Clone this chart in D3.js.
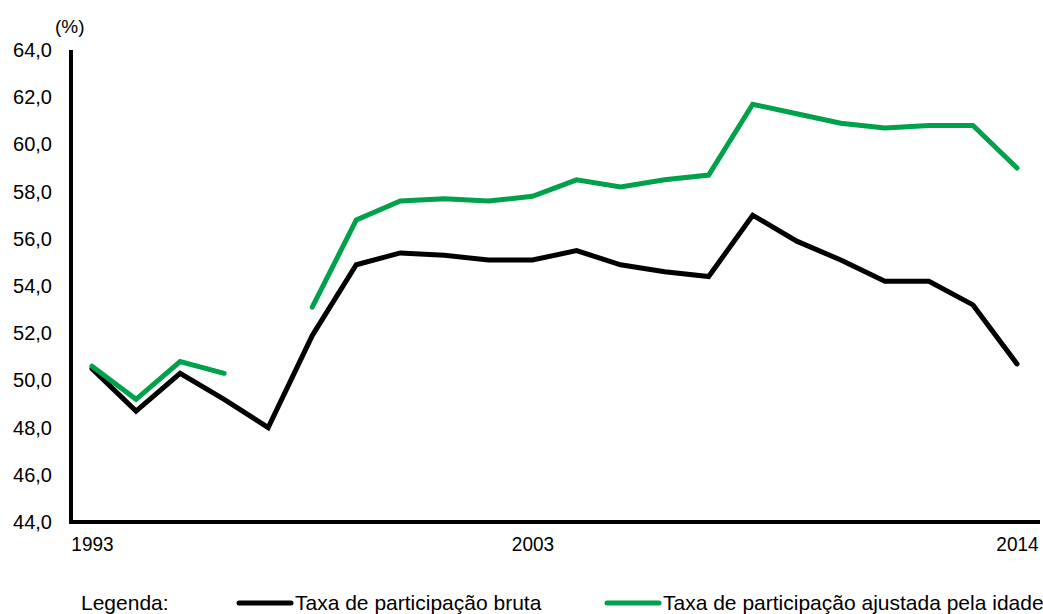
<!DOCTYPE html>
<html>
<head>
<meta charset="utf-8">
<script src="https://cdn.jsdelivr.net/npm/d3@7"></script>
<style>
  html, body { margin: 0; padding: 0; background: #fff; }
  svg { display: block; font-family: "Liberation Sans", Arial, Helvetica, sans-serif; }
</style>
</head>
<body>
<svg id="chart" width="1043" height="614"></svg>
<script>
// Years shown on the horizontal axis
const years = d3.range(1993, 2015);
const xTickYears = [1993, 2003, 2014];

// Gross participation rate (%)
const taxaBruta = [50.5, 48.7, 50.3, 49.2, 48.0, 51.9, 54.9, 55.4, 55.3, 55.1, 55.1,
                   55.5, 54.9, 54.6, 54.4, 57.0, 55.9, 55.1, 54.2, 54.2, 53.2, 50.7];

// Age-adjusted participation rate (%); 1997 has no value
const taxaAjustada = [50.6, 49.2, 50.8, 50.3, null, 53.1, 56.8, 57.6, 57.7, 57.6, 57.8,
                      58.5, 58.2, 58.5, 58.7, 61.7, 61.3, 60.9, 60.7, 60.8, 60.8, 59.0];

const yTicks = [44, 46, 48, 50, 52, 54, 56, 58, 60, 62, 64];

const seriesNames = ["Taxa de participação bruta", "Taxa de participação ajustada pela idade"];
const seriesColors = ["#000000", "#00a14b"];

const svg = d3.select("#chart");

const x = d3.scaleLinear().domain([1993, 2014]).range([92, 1017]);
const y = d3.scaleLinear().domain([44, 64]).range([522, 50]);

const fmt = v => d3.format(".1f")(v).replace(".", ",");

// Y axis: labels only, plus a heavy spine
const yAxis = d3.axisLeft(y).tickValues(yTicks).tickSize(0).tickPadding(0).tickFormat(fmt);
const gy = svg.append("g").attr("transform", "translate(52,0)").call(yAxis);
gy.select(".domain").remove();
gy.selectAll("text")
  .attr("font-size", 20)
  .attr("fill", "#000")
  .attr("font-family", "Liberation Sans, Arial, sans-serif");

svg.append("line")
  .attr("x1", 71).attr("x2", 71)
  .attr("y1", y(64)).attr("y2", y(44) + 2)
  .attr("stroke", "#000").attr("stroke-width", 4);

// X axis: heavy baseline with three year labels
svg.append("line")
  .attr("x1", 69).attr("x2", 1040)
  .attr("y1", y(44)).attr("y2", y(44))
  .attr("stroke", "#000").attr("stroke-width", 4);

const xAxis = d3.axisBottom(x).tickValues(xTickYears).tickSize(0).tickPadding(0).tickFormat(d3.format("d"));
const gx = svg.append("g").attr("transform", "translate(0,536)").call(xAxis);
gx.select(".domain").remove();
gx.selectAll("text")
  .attr("font-size", 19)
  .attr("fill", "#000")
  .attr("font-family", "Liberation Sans, Arial, sans-serif")
  .attr("dy", "0.71em")
  .attr("transform", "scale(1,1.1)");

// Unit label
svg.append("text")
  .attr("x", 55).attr("y", 33)
  .attr("font-size", 19)
  .text("(%)");

// Series lines
const line = d3.line()
  .defined(d => d.v !== null)
  .x(d => x(d.year))
  .y(d => y(d.v));

[taxaBruta, taxaAjustada].forEach((vals, i) => {
  svg.append("path")
    .datum(years.map((yr, j) => ({ year: yr, v: vals[j] })))
    .attr("d", line)
    .attr("fill", "none")
    .attr("stroke", seriesColors[i])
    .attr("stroke-width", 5)
    .attr("stroke-linejoin", "miter")
    .attr("stroke-linecap", "round");
});

// Legend
const legendY = 603;
svg.append("text")
  .attr("x", 81).attr("y", legendY)
  .attr("dy", "0.35em")
  .attr("font-size", 21)
  .text("Legenda:");

const legendItems = [
  { x1: 239, x2: 291, tx: 295 },
  { x1: 607, x2: 659, tx: 663 }
];
legendItems.forEach((it, i) => {
  svg.append("line")
    .attr("x1", it.x1).attr("x2", it.x2)
    .attr("y1", legendY).attr("y2", legendY)
    .attr("stroke", seriesColors[i]).attr("stroke-width", 5)
    .attr("stroke-linecap", "round");
  svg.append("text")
    .attr("x", it.tx).attr("y", legendY)
    .attr("dy", "0.35em")
    .attr("font-size", 21)
    .text(seriesNames[i]);
});
</script>
</body>
</html>
